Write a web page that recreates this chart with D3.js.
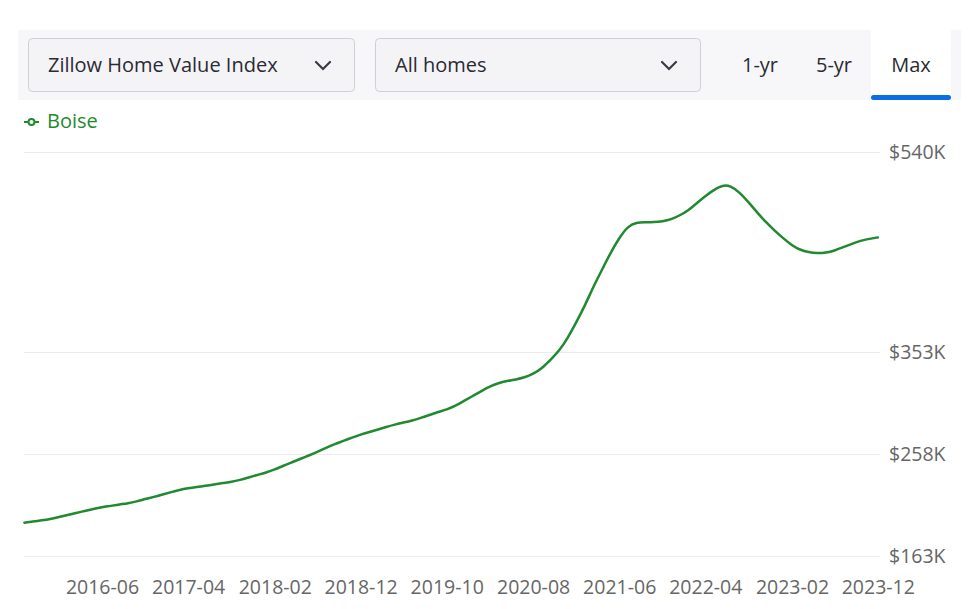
<!DOCTYPE html>
<html>
<head>
<meta charset="utf-8">
<script src="https://cdn.jsdelivr.net/npm/d3@7"></script>
<style>
  html, body { margin: 0; padding: 0; background: #fff; }
  svg { display: block; font-family: "Open Sans", "Noto Sans", sans-serif; }
</style>
</head>
<body>
<svg id="chart" width="980" height="609"></svg>
<script>
// ---- Data ----
const startMonth = "2015-09";
const seriesName = "Boise";
// Monthly Zillow Home Value Index (thousands of $), 2015-09 .. 2023-12
const values = [
  194.1, 195.2, 196.3, 197.5, 199.4, 201.3, 203.1, 205.0, 206.9, 208.7,
  209.7, 211.1, 212.2, 213.9, 216.2, 218.1, 220.4, 222.7, 224.6, 226.2,
  227.4, 228.5, 229.7, 231.1, 232.2, 233.9, 236.3, 238.6, 240.9, 243.7,
  247.0, 250.3, 253.5, 256.8, 260.1, 263.8, 267.5, 270.3, 273.6, 276.4,
  278.7, 281.0, 283.4, 285.7, 287.5, 289.4, 291.8, 294.6, 297.4, 299.7,
  303.0, 307.7, 312.3, 317.0, 321.2, 324.4, 326.3, 327.7, 329.6, 332.8,
  338.0, 345.9, 354.3, 366.4, 381.4, 397.2, 414.0, 429.9, 445.8, 459.8,
  470.6, 474.4, 474.4, 474.5, 475.3, 477.0, 480.8, 485.6, 492.1, 498.9,
  504.6, 509.3, 508.3, 502.2, 493.0, 483.7, 474.4, 466.9, 459.5, 452.9,
  448.7, 446.4, 445.5, 446.0, 447.9, 451.2, 454.4, 457.2, 459.0, 460.3
];
const xTickLabels = ["2016-06","2017-04","2018-02","2018-12","2019-10","2020-08","2021-06","2022-04","2023-02","2023-12"];
const yTickValues = [163, 258, 353, 540];
const yTickLabels = ["$163K", "$258K", "$353K", "$540K"];
const dropdownLabels = ["Zillow Home Value Index", "All homes"];
const rangeLabels = ["1-yr", "5-yr", "Max"];

// ---- Setup ----
const parse = d3.timeParse("%Y-%m");
const fmt = d3.timeFormat("%Y-%m");
const start = parse(startMonth);
const data = values.map((v, i) => ({ date: d3.timeMonth.offset(start, i), value: v }));

const svg = d3.select("#chart");
const green = "#1f8a2f";

// ---- Top control bar ----
svg.append("rect").attr("x", 18).attr("y", 30).attr("width", 943).attr("height", 70).attr("fill", "#f7f7f9");

const dd = [{x: 28, w: 326}, {x: 375, w: 325}];
dd.forEach((b, i) => {
  svg.append("rect").attr("x", b.x + 0.5).attr("y", 38.5).attr("width", b.w).attr("height", 53)
    .attr("rx", 4).attr("fill", "#f4f4f7").attr("stroke", "#cfcfd6");
  svg.append("text").attr("x", b.x + 20).attr("y", 72).attr("font-size", 20).attr("fill", "#2a2a33")
    .text(dropdownLabels[i]);
  const cx = b.x + b.w - 31, cy = 66;
  svg.append("path").attr("d", `M${cx-7},${cy-4} L${cx},${cy+3} L${cx+7},${cy-4}`)
    .attr("fill", "none").attr("stroke", "#3a3a44").attr("stroke-width", 2.2).attr("stroke-linecap", "round");
});

svg.append("rect").attr("x", 871).attr("y", 30).attr("width", 80).attr("height", 70).attr("fill", "#ffffff");
svg.append("rect").attr("x", 871).attr("y", 95).attr("width", 80).attr("height", 5).attr("rx", 2.5).attr("fill", "#0b6fe3");
const rangeX = [760, 834, 911];
rangeLabels.forEach((t, i) => {
  svg.append("text").attr("x", rangeX[i]).attr("y", 72).attr("text-anchor", "middle")
    .attr("font-size", 20).attr("fill", "#2a2a33").text(t);
});

// ---- Legend ----
const lg = svg.append("g");
lg.append("line").attr("x1", 24).attr("x2", 39).attr("y1", 122).attr("y2", 122).attr("stroke", green).attr("stroke-width", 2);
lg.append("circle").attr("cx", 31.5).attr("cy", 122).attr("r", 3).attr("fill", "#fff").attr("stroke", green).attr("stroke-width", 2);
lg.append("text").attr("x", 47).attr("y", 128).attr("font-size", 20).attr("fill", green).text(seriesName);

// ---- Scales ----
const x = d3.scaleTime().domain([data[0].date, data[data.length - 1].date]).range([24.4, 877.8]);
const y = d3.scaleLinear().domain([163, 540]).range([556, 152]);

// grid
svg.append("g").selectAll("line").data(yTickValues).join("line")
  .attr("x1", 24).attr("x2", 880)
  .attr("y1", d => Math.round(y(d)) + 0.5).attr("y2", d => Math.round(y(d)) + 0.5)
  .attr("stroke", "#ececec").attr("stroke-width", 1);

// y axis labels (right)
const yAxis = d3.axisRight(y).tickValues(yTickValues).tickSize(0).tickPadding(0)
  .tickFormat((d, i) => yTickLabels[i]);
const gy = svg.append("g").attr("transform", "translate(889,0)").call(yAxis);
gy.select(".domain").remove();
gy.selectAll("text").attr("font-size", 19.5).attr("fill", "#666").attr("font-family", "'Open Sans', sans-serif");

// x axis labels
const xTicks = xTickLabels.map(parse);
const xAxis = d3.axisBottom(x).tickValues(xTicks).tickSize(0).tickPadding(0).tickFormat(fmt);
const gx = svg.append("g").attr("transform", "translate(0,580)").call(xAxis);
gx.select(".domain").remove();
gx.selectAll("text").attr("font-size", 19.5).attr("fill", "#666").attr("font-family", "'Open Sans', sans-serif");

// line
const line = d3.line().x(d => x(d.date)).y(d => y(d.value)).curve(d3.curveBasis);
svg.append("path").datum(data).attr("d", line)
  .attr("fill", "none").attr("stroke", green).attr("stroke-width", 2.5)
  .attr("stroke-linejoin", "round").attr("stroke-linecap", "round");
</script>
</body>
</html>
